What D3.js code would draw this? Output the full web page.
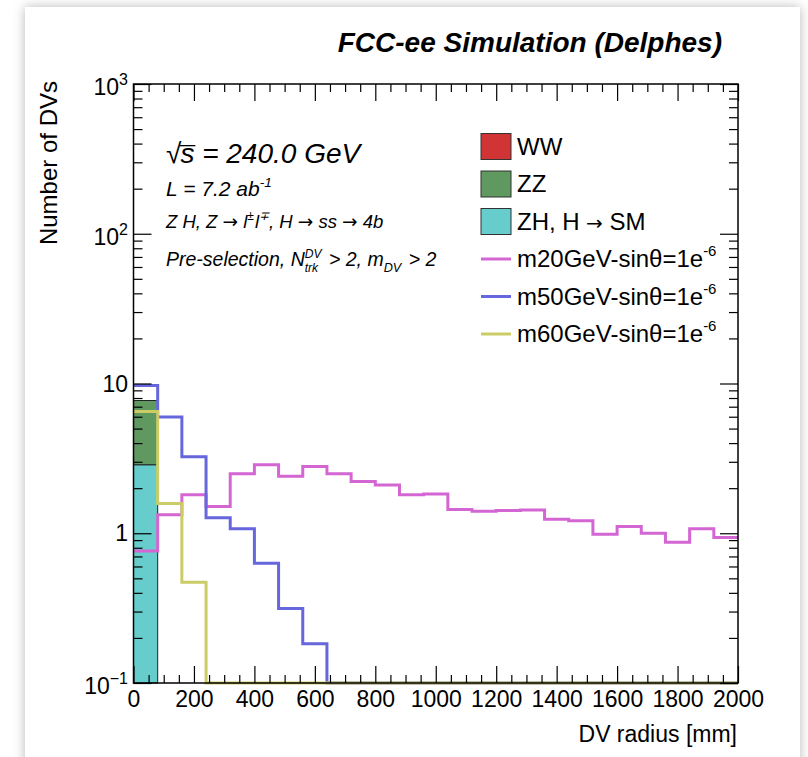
<!DOCTYPE html>
<html>
<head>
<meta charset="utf-8">
<script src="https://cdn.jsdelivr.net/npm/d3@7"></script>
<style>
  html, body { margin: 0; padding: 0; background: #ffffff; }
  svg { display: block; font-family: "Liberation Sans", Arial, Helvetica, sans-serif; }
</style>
</head>
<body>
<svg id="chart" width="808" height="757"></svg>
<script>
// ---------------- DATA ----------------
const binEdges = [0, 80, 160, 240, 320, 400, 480, 560, 640, 720, 800, 880, 960, 1040,
                  1120, 1200, 1280, 1360, 1440, 1520, 1600, 1680, 1760, 1840, 1920, 2000];
// stacked backgrounds (per bin)
const bkgWW = [0, 0, 0, 0, 0, 0, 0, 0, 0, 0, 0, 0, 0, 0, 0, 0, 0, 0, 0, 0, 0, 0, 0, 0, 0];
const bkgZZ = [4.84, 0, 0, 0, 0, 0, 0, 0, 0, 0, 0, 0, 0, 0, 0, 0, 0, 0, 0, 0, 0, 0, 0, 0, 0];
const bkgZH = [2.86, 0, 0, 0, 0, 0, 0, 0, 0, 0, 0, 0, 0, 0, 0, 0, 0, 0, 0, 0, 0, 0, 0, 0, 0];
// signal histograms
const sigM20 = [0.76, 1.33, 1.81, 1.51, 2.5, 2.87, 2.4, 2.79, 2.5, 2.22, 2.1, 1.81, 1.83,
                1.44, 1.40, 1.42, 1.43, 1.24, 1.21, 0.985, 1.11, 1.0, 0.87, 1.07, 0.935];
const sigM50 = [9.7, 5.98, 3.24, 1.27, 1.07, 0.63, 0.314, 0.183, 0, 0, 0, 0, 0,
                0, 0, 0, 0, 0, 0, 0, 0, 0, 0, 0, 0];
const sigM60 = [6.5, 1.58, 0.47, 0, 0, 0, 0, 0, 0, 0, 0, 0, 0,
                0, 0, 0, 0, 0, 0, 0, 0, 0, 0, 0, 0];
const xMajorTicks = [0, 200, 400, 600, 800, 1000, 1200, 1400, 1600, 1800, 2000];
const yMajorTicks = [0.1, 1, 10, 100, 1000];
const yTickLabels = [["10", "\u22121"], ["1", ""], ["10", ""], ["10", "2"], ["10", "3"]];

const legendItems = [
  { type: "box", color: "#d03434", label: "WW" },
  { type: "box", color: "#5f995f", label: "ZZ" },
  { type: "box", color: "#66cccc", label: "ZH, H", arrow: " SM" },
  { type: "line", color: "#d466d4", label: "m20GeV-sin\u03b8=1e", sup: "-6" },
  { type: "line", color: "#6666dd", label: "m50GeV-sin\u03b8=1e", sup: "-6" },
  { type: "line", color: "#cccc66", label: "m60GeV-sin\u03b8=1e", sup: "-6" }
];

// ---------------- LAYOUT ----------------
const svg = d3.select("#chart");
const L = 133.5, R = 738, T = 84, B = 683;
const x = d3.scaleLinear().domain([0, 2000]).range([L, R]);
const y = d3.scaleLog().domain([0.1, 1000]).range([B, T]);
const ymin = 0.1;

// panel with drop shadow
const defs = svg.append("defs");
const f = defs.append("filter").attr("id", "shadow").attr("x", "-10%").attr("y", "-10%")
  .attr("width", "120%").attr("height", "120%");
f.append("feDropShadow").attr("dx", 0).attr("dy", 0).attr("stdDeviation", 6)
  .attr("flood-color", "#000").attr("flood-opacity", 0.28);
svg.append("rect").attr("x", 25).attr("y", 7).attr("width", 775).attr("height", 800)
  .attr("fill", "#fff").attr("filter", "url(#shadow)");

defs.append("clipPath").attr("id", "plotclip").append("rect")
  .attr("x", L).attr("y", T).attr("width", R - L).attr("height", B - T + 2);

const plot = svg.append("g").attr("clip-path", "url(#plotclip)");

// ---------- stacked backgrounds ----------
const rows = bkgZH.map((v, i) => ({ ZH: bkgZH[i], ZZ: bkgZZ[i], WW: bkgWW[i] }));
const stacked = d3.stack().keys(["ZH", "ZZ", "WW"])(rows);
const stackColors = { ZH: "#66cccc", ZZ: "#5f995f", WW: "#d03434" };
stacked.slice().reverse().forEach(layer => {
  layer.forEach((d, i) => {
    if (d[1] - d[0] <= 0) return;
    plot.append("rect")
      .attr("x", x(binEdges[i]))
      .attr("width", x(binEdges[i + 1]) - x(binEdges[i]))
      .attr("y", y(d[1]))
      .attr("height", y(Math.max(d[0], ymin)) - y(d[1]))
      .attr("fill", stackColors[layer.key])
      .attr("stroke", "#222").attr("stroke-width", 1);
  });
});

// ---------- signal step histograms ----------
function stepPoints(vals) {
  const pts = [];
  vals.forEach((v, i) => { pts.push([binEdges[i], v]); pts.push([binEdges[i + 1], v]); });
  return pts;
}
const stepLine = d3.line()
  .x(d => x(d[0]))
  .y(d => y(Math.max(d[1], ymin)));
[[sigM20, "#d466d4"], [sigM50, "#6666dd"], [sigM60, "#cccc66"]].forEach(([vals, col]) => {
  plot.append("path").attr("d", stepLine(stepPoints(vals)))
    .attr("fill", "none").attr("stroke", col).attr("stroke-width", 3)
    .attr("stroke-linejoin", "miter");
});

// ---------------- AXES ----------------
const xMinor = d3.range(0, 2001, 50).filter(v => v % 200 !== 0);
const yMinor = [];
[0.1, 1, 10, 100].forEach(dec => { for (let k = 2; k <= 9; k++) yMinor.push(dec * k); });

function styleAxis(g) {
  g.select(".domain").remove();
  g.selectAll(".tick line").attr("stroke", "#000").attr("stroke-width", 1.2);
}
// bottom
svg.append("g").attr("transform", `translate(0,${B})`)
  .call(d3.axisBottom(x).tickValues(xMajorTicks).tickSize(-17).tickPadding(8).tickFormat(d3.format("d")))
  .call(styleAxis)
  .call(g => g.selectAll("text").attr("font-size", 23).attr("fill", "#000")
    .attr("font-family", "Liberation Sans, Arial, sans-serif"));
svg.append("g").attr("transform", `translate(0,${B})`)
  .call(d3.axisBottom(x).tickValues(xMinor).tickSize(-8).tickFormat(""))
  .call(styleAxis);
// top
svg.append("g").attr("transform", `translate(0,${T})`)
  .call(d3.axisTop(x).tickValues(xMajorTicks).tickSize(-17).tickFormat(""))
  .call(styleAxis);
svg.append("g").attr("transform", `translate(0,${T})`)
  .call(d3.axisTop(x).tickValues(xMinor).tickSize(-8).tickFormat(""))
  .call(styleAxis);
// left
svg.append("g").attr("transform", `translate(${L},0)`)
  .call(d3.axisLeft(y).tickValues(yMajorTicks).tickSize(-18).tickFormat(""))
  .call(styleAxis);
svg.append("g").attr("transform", `translate(${L},0)`)
  .call(d3.axisLeft(y).tickValues(yMinor).tickSize(-9).tickFormat(""))
  .call(styleAxis);
// right
svg.append("g").attr("transform", `translate(${R},0)`)
  .call(d3.axisRight(y).tickValues(yMajorTicks).tickSize(-18).tickFormat(""))
  .call(styleAxis);
svg.append("g").attr("transform", `translate(${R},0)`)
  .call(d3.axisRight(y).tickValues(yMinor).tickSize(-9).tickFormat(""))
  .call(styleAxis);

// y tick labels (10^n)
yMajorTicks.forEach((v, i) => {
  const [base, sup] = yTickLabels[i];
  const t = svg.append("text").attr("x", 128).attr("y", y(v) + (sup ? 11 : 8))
    .attr("text-anchor", "end").attr("font-size", 23).attr("fill", "#000");
  t.append("tspan").text(base);
  if (sup) t.append("tspan").attr("font-size", 16).attr("dy", -10).text(sup);
});

// frame
svg.append("rect").attr("x", L).attr("y", T).attr("width", R - L).attr("height", B - T)
  .attr("fill", "none").attr("stroke", "#000").attr("stroke-width", 1.5);

// axis titles
svg.append("text").attr("x", 737).attr("y", 742).attr("text-anchor", "end")
  .attr("font-size", 23).text("DV radius [mm]");
svg.append("text").attr("transform", "translate(57,81) rotate(-90)").attr("text-anchor", "end")
  .attr("font-size", 24).text("Number of DVs");

// title
svg.append("text").attr("x", 722).attr("y", 52).attr("text-anchor", "end")
  .attr("font-size", 28).attr("font-weight", "bold").attr("font-style", "italic")
  .text("FCC-ee Simulation (Delphes)");

// ---------------- TEXT BLOCK ----------------
function runs(x0, base, size, parts) {
  let cx = x0;
  parts.forEach(p => {
    if (p.stack) {
      const s = size * 0.62;
      const a = svg.append("text").attr("x", cx).attr("y", base - size * 0.42)
        .attr("font-size", s).attr("font-style", "italic").text(p.sup);
      const b = svg.append("text").attr("x", cx).attr("y", base + size * 0.32)
        .attr("font-size", s).attr("font-style", "italic").text(p.sub);
      cx += Math.max(a.node().getComputedTextLength(), b.node().getComputedTextLength()) + 2;
      return;
    }
    const s = (p.sup || p.sub) ? size * 0.65 : size;
    const yy = p.sup ? base - size * 0.42 : p.sub ? base + size * 0.32 : base;
    const t = svg.append("text").attr("x", cx).attr("y", yy)
      .attr("font-size", s).attr("font-style", p.upright ? "normal" : "italic")
      .attr("fill", "#000").style("white-space", "pre").text(p.t);
    if (p.font) t.attr("font-family", p.font);
    const w = t.node().getComputedTextLength();
    if (p.over) {
      svg.append("line").attr("x1", cx - 1).attr("x2", cx + w + 1)
        .attr("y1", base - size * 0.62).attr("y2", base - size * 0.62)
        .attr("stroke", "#000").attr("stroke-width", 1.3);
    }
    cx += w + (p.gap || 0);
  });
}
const arrowFont = "DejaVu Sans, sans-serif";
runs(166, 163, 28, [
  { t: "\u221a", upright: true, gap: -1 },
  { t: "s", over: true },
  { t: " = 240.0 GeV" }
]);
runs(166, 196, 21, [
  { t: "L = 7.2 ab" },
  { t: "-1", sup: true }
]);
runs(166, 228, 18.5, [
  { t: "Z H, Z " },
  { t: "\u2192", font: arrowFont, upright: true },
  { t: " l" },
  { t: "\u00b1", sup: true, gap: 1 },
  { t: "l" },
  { t: "\u2213", sup: true },
  { t: ", H " },
  { t: "\u2192", font: arrowFont, upright: true },
  { t: " ss " },
  { t: "\u2192", font: arrowFont, upright: true },
  { t: " 4b" }
]);
runs(166, 266, 19.5, [
  { t: "Pre-selection, N" },
  { stack: true, sup: "DV", sub: "trk" },
  { t: " > 2, m" },
  { t: "DV", sub: true, gap: 2 },
  { t: " > 2" }
]);

// ---------------- LEGEND ----------------
const legRowY = d3.scaleLinear().domain([0, 5]).range([146.5, 334]);
legendItems.forEach((it, i) => {
  const cy = legRowY(i);
  if (it.type === "box") {
    svg.append("rect").attr("x", 481).attr("y", cy - 13).attr("width", 30).attr("height", 26)
      .attr("fill", it.color).attr("stroke", "#333").attr("stroke-width", 1);
  } else {
    svg.append("line").attr("x1", 481).attr("x2", 511).attr("y1", cy).attr("y2", cy)
      .attr("stroke", it.color).attr("stroke-width", 3);
  }
  const t = svg.append("text").attr("x", 517).attr("y", cy + 8).attr("font-size", 24).attr("fill", "#000");
  t.append("tspan").text(it.label);
  if (it.arrow) {
    t.append("tspan").attr("font-family", "DejaVu Sans, sans-serif").attr("font-size", 20).text(" \u2192");
    t.append("tspan").text(it.arrow);
  }
  if (it.sup) t.append("tspan").attr("font-size", 15).attr("dy", -11).text(it.sup);
});
</script>
</body>
</html>
